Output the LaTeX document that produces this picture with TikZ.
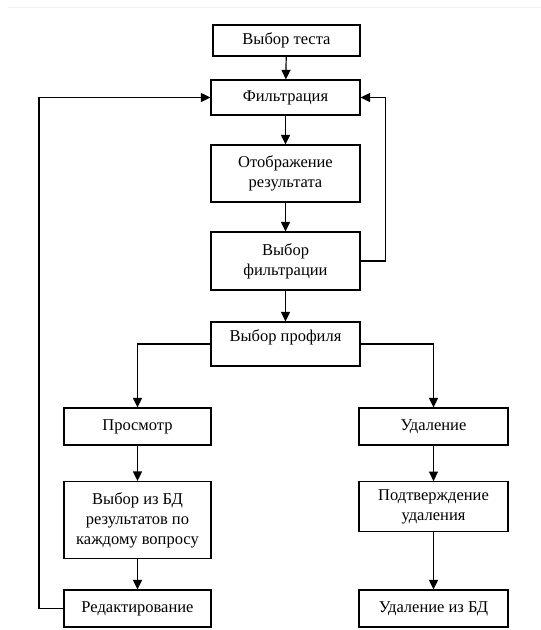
\documentclass[tikz,border=0pt]{standalone}
\usepackage{fontspec}
\setmainfont{Liberation Serif}
\usetikzlibrary{arrows.meta}
\begin{document}
\begin{tikzpicture}[x=1pt,y=-1pt,
  box/.style={draw=black,line width=1.2pt,rectangle,inner sep=0pt,align=center,
    font=\fontsize{16.5}{20}\selectfont},
  conn/.style={line width=1.2pt,-{Triangle[length=9.5pt,width=9pt]}}]
\useasboundingbox (0,0) rectangle (541,630);
\draw[black!6,line width=0.8pt] (8,7) -- (541,7);
\node[box,minimum width=147pt,minimum height=31pt] (b1) at (286.5,40.5) {Выбор теста};
\node[box,minimum width=149pt,minimum height=35pt] (b2) at (285.5,97.5) {Фильтрация};
\node[box,minimum width=149pt,minimum height=57pt] (b3) at (285.5,173.5) {Отображение\\результата};
\node[box,minimum width=149pt,minimum height=58pt] (b4) at (285.5,261) {Выбор\\фильтрации};
\node[box,minimum width=149pt,text height=19pt,text depth=25pt,anchor=base] (b5) at (285.5,341) {Выбор профиля};
\node[box,minimum width=147pt,minimum height=37pt] (b6) at (137.5,426.5) {Просмотр};
\node[box,minimum width=149pt,minimum height=37pt] (b7) at (433.5,426.5) {Удаление};
\node[box,minimum width=147pt,minimum height=77pt] (b8) at (137.5,520) {Выбор из БД\\результатов по\\каждому вопросу};
\node[box,minimum width=149pt,minimum height=50pt] (b9) at (433.5,506.7) {Подтверждение\\удаления};
\node[box,minimum width=147pt,minimum height=37pt] (b10) at (137.5,608.5) {Редактирование};
\node[box,minimum width=149pt,minimum height=37pt] (b11) at (433.5,608.5) {Удаление из БД};
\draw[conn] (b1) -- (b2);
\draw[conn] (b2) -- (b3);
\draw[conn] (b3) -- (b4);
\draw[conn] (b4) -- (b5);
\draw[conn] (b4.east) -- ++(24.5,0) coordinate (r1) |- (b2.east);
\draw[conn] (b10.west) -- ++(-24.5,0) coordinate (l1) |- (b2.west);
\draw[conn] (b5.west) -| (b6.north);
\draw[conn] (b5.east) -| (b7.north);
\draw[conn] (b6) -- (b8);
\draw[conn] (b8) -- (b10);
\draw[conn] (b7) -- (b9);
\draw[conn] (b9) -- (b11);
\end{tikzpicture}
\end{document}
